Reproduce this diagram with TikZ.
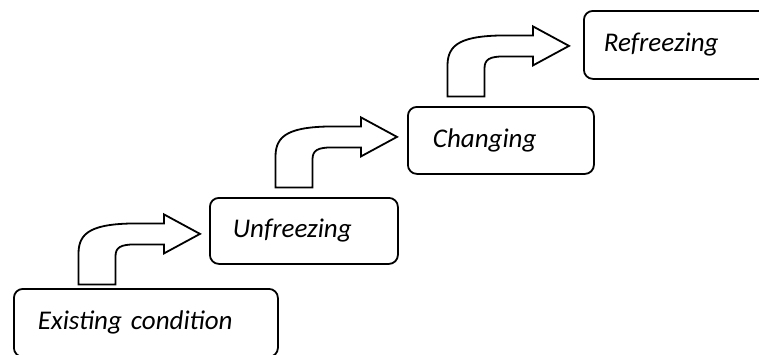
\documentclass[tikz,border=0pt]{standalone}
\usepackage{fontspec}
\setmainfont{Carlito}
\usetikzlibrary{calc}
\tikzset{
  stagebox/.style={draw=black, line width=1.8pt, rounded corners=9pt, anchor=north west,
    align=left, inner ysep=0pt, font=\fontsize{27}{31}\selectfont\itshape},
  bentarrow/.pic={
    \draw[line width=1.8pt, line join=miter, fill=white]
      (-121.5,50.5) -- (-121.5,19.5)
      .. controls (-121.5,-2.5) and (-106.5,-10.5) .. (-61.5,-10.5)
      -- (-36,-10.5) -- (-36,-19.5) -- (0,0) -- (-36,19.5) -- (-36,10.5)
      -- (-64.5,10.5) .. controls (-79.5,10.5) and (-84.5,13.5) .. (-84.5,22.5)
      -- (-84.5,50.5) -- cycle;
  }
}
\begin{document}
\begin{tikzpicture}[x=1pt,y=-1pt]
\useasboundingbox (0,0) rectangle (759,354);
\clip (0,0) rectangle (759,354);
\fill[white] (0,0) rectangle (759,354);
\node[stagebox, inner xsep=24pt, text width=216pt, minimum height=68pt] (ex) at (13,288) {Existing condition};
\node[stagebox, inner xsep=23pt, text width=142pt, minimum height=66pt] (unf) at (209,197) {Unfreezing};
\node[stagebox, inner xsep=25pt, text width=136pt, minimum height=67pt] (chg) at (407,106) {Changing};
\node[stagebox, inner xsep=20pt, text width=150pt, minimum height=68pt] (ref) at (583,10) {Refreezing};
\coordinate (t1) at ($(unf.west)+(-9,3)$);
\coordinate (t2) at ($(chg.west)+(-10,-3.5)$);
\coordinate (t3) at ($(ref.west)+(-14,1)$);
\pic at (t1) {bentarrow};
\pic at (t2) {bentarrow};
\pic at (t3) {bentarrow};
\end{tikzpicture}
\end{document}
